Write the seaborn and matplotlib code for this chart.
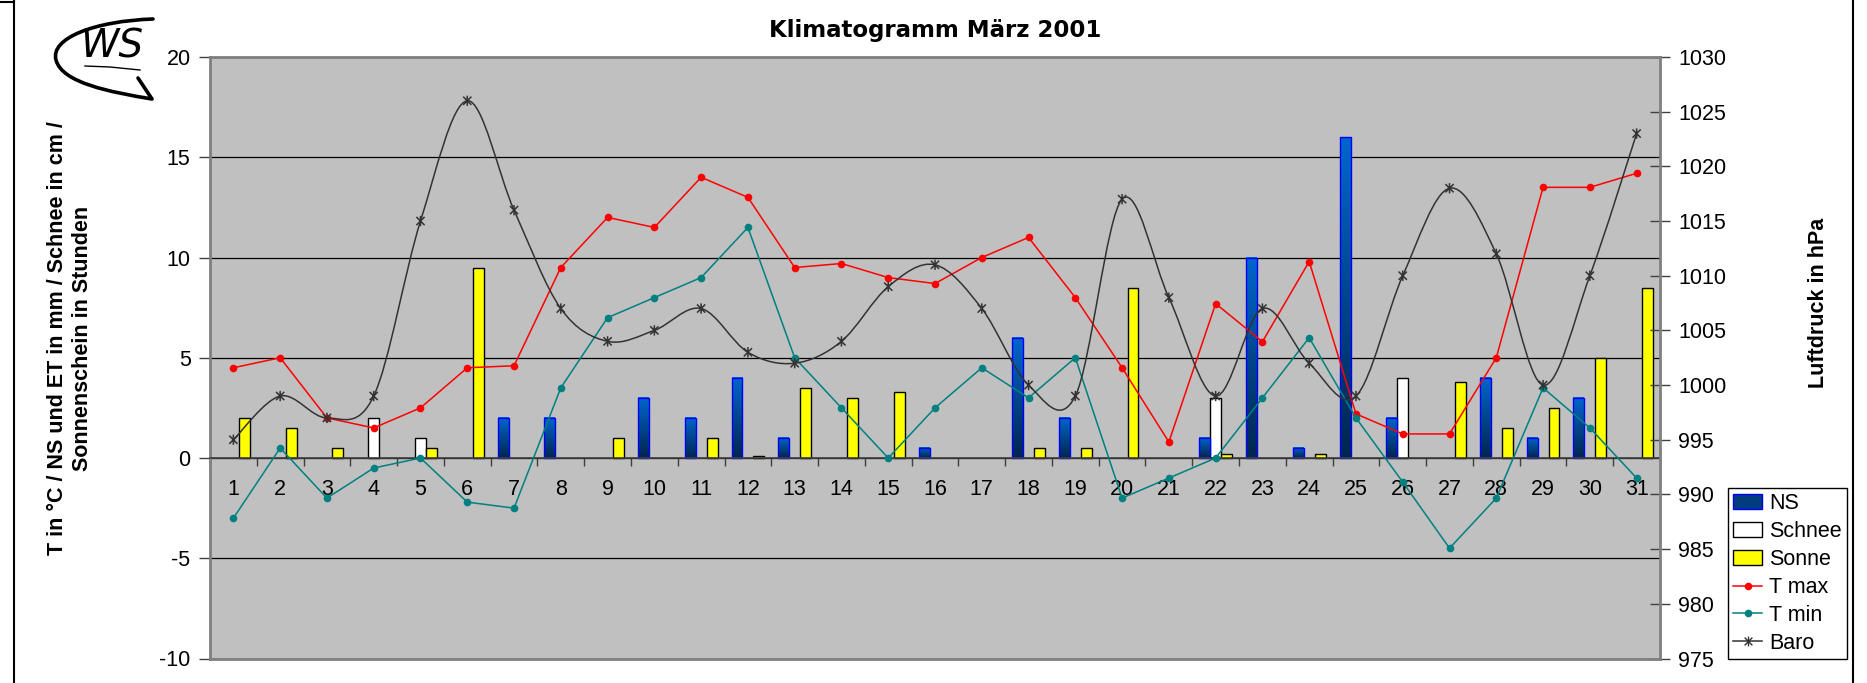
import numpy as np
import pandas as pd
import matplotlib
matplotlib.use("Agg")
import matplotlib.pyplot as plt
import seaborn as sns
from matplotlib.path import Path
from matplotlib.patches import PathPatch, Patch
from matplotlib.lines import Line2D
from matplotlib.colors import LinearSegmentedColormap

nan = np.nan
days = [str(d) for d in range(1, 32)]
ns = [nan, nan, nan, nan, nan, nan, 2, 2, nan, 3, 2, 4, 1, nan, nan, 0.5,
      nan, 6, 2, nan, nan, 1, 10, 0.5, 16, 2, nan, 4, 1, 3, nan]
schnee = [nan, nan, nan, 2, 1, nan, nan, nan, nan, nan, nan, nan, nan, nan, nan, nan,
          nan, nan, nan, nan, nan, 3, nan, nan, nan, 4, nan, nan, nan, nan, nan]
sonne = [2, 1.5, 0.5, nan, 0.5, 9.5, nan, nan, 1, nan, 1, 0.1, 3.5, 3, 3.3, nan,
         nan, 0.5, 0.5, 8.5, nan, 0.2, nan, 0.2, nan, nan, 3.8, 1.5, 2.5, 5, 8.5]
tmax = [4.5, 5, 2, 1.5, 2.5, 4.5, 4.6, 9.5, 12, 11.5, 14, 13, 9.5, 9.7, 9, 8.7,
        10, 11, 8, 4.5, 0.8, 7.7, 5.8, 9.8, 2.2, 1.2, 1.2, 5, 13.5, 13.5, 14.2]
tmin = [-3, 0.5, -2, -0.5, 0, -2.2, -2.5, 3.5, 7, 8, 9, 11.5, 5, 2.5, 0, 2.5,
        4.5, 3, 5, -2, -1, 0, 3, 6, 2, -1.2, -4.5, -2, 3.5, 1.5, -1]
baro = [995, 999, 997, 999, 1015, 1026, 1016, 1007, 1004, 1005, 1007, 1003, 1002, 1004,
        1009, 1011, 1007, 1000, 999, 1017, 1008, 999, 1007, 1002, 999, 1010, 1018,
        1012, 1000, 1010, 1023]
series = ["NS", "Schnee", "Sonne"]
legend_labels = ["NS", "Schnee", "Sonne", "T max", "T min", "Baro"]
title = "Klimatogramm März 2001"
ylabel_left = "T in °C / NS und ET in mm / Schnee in cm /\nSonnenschein in Stunden"
ylabel_right = "Luftdruck in hPa"

plt.rcParams['font.family'] = ['Liberation Sans', 'DejaVu Sans']
plt.rcParams['axes.unicode_minus'] = False

W, H = 1867, 683
fig = plt.figure(figsize=(W / 100, H / 100), dpi=100)
fig.patch.set_facecolor('white')
ax = fig.add_axes([210 / W, 1 - 658.5 / H, 1450 / W, 601.5 / H])
ax.set_facecolor('#C0C0C0')

df = pd.DataFrame({
    'Tag': days * 3,
    'Serie': ['NS'] * 31 + ['Schnee'] * 31 + ['Sonne'] * 31,
    'Wert': ns + schnee + sonne,
}).dropna()

sns.barplot(data=df, x='Tag', y='Wert', hue='Serie', order=days, hue_order=series,
            palette={'NS': '#0050a0', 'Schnee': 'white', 'Sonne': '#FFFF00'},
            width=0.7, gap=0, errorbar=None, legend=False, saturation=1,
            edgecolor='black', linewidth=1.0, ax=ax, zorder=2)

grad = np.linspace(0, 1, 256).reshape(-1, 1)
cmap = LinearSegmentedColormap.from_list('ns', ['#00254f', '#0066cc'])
for cont, name in zip(ax.containers, series):
    if name != 'NS':
        continue
    for p in cont:
        x0, w, h = p.get_x(), p.get_width(), p.get_height()
        if not np.isfinite(h) or h == 0:
            continue
        ax.imshow(grad, extent=[x0, x0 + w, 0, h], origin='lower', aspect='auto',
                  cmap=cmap, zorder=2.1, interpolation='bilinear')
        p.set_facecolor('none')
        p.set_edgecolor('#0000FF')
        p.set_zorder(2.2)

pos = np.arange(len(days))
sns.lineplot(x=pos, y=tmax, color='#FF0000', marker='o', markersize=5.5,
             markeredgewidth=0, linewidth=1.1, ax=ax, zorder=4, legend=False)
sns.lineplot(x=pos, y=tmin, color='#008080', marker='o', markersize=5.5,
             markeredgewidth=0, linewidth=1.1, ax=ax, zorder=4, legend=False)

ax.set_xlim(-0.5, len(days) - 0.5)
ax.set_ylim(-10, 20)
ax.set_aspect('auto')
ax.set_xlabel('')
ax.set_ylabel('')
ax.set_yticks(range(-10, 21, 5))
ax.grid(axis='y', color='black', linewidth=0.9)
ax.grid(axis='x', visible=False)
ax.set_axisbelow(True)

ax.set_xticks(np.arange(-0.5, len(days), 1))
ax.set_xticklabels([])
ax.set_xticks(pos, minor=True)
ax.set_xticklabels(days, minor=True)
ax.tick_params(axis='x', which='major', direction='out', length=6, width=1, color='#404040')
ax.tick_params(axis='x', which='minor', length=0, pad=15, labelsize=15.5)
ax.tick_params(axis='y', direction='out', length=8, width=1, color='#404040',
               pad=6, labelsize=15.5)
ax.spines['bottom'].set_position(('data', 0))
ax.spines['bottom'].set_color('#404040')
ax.spines['bottom'].set_linewidth(1.2)
ax.spines['top'].set_visible(False)
ax.spines['right'].set_visible(False)
ax.spines['left'].set_color('#808080')
ax.spines['left'].set_linewidth(2)

# Barometer on secondary axis
ax2 = ax.twinx()
ax2.set_ylim(975, 1030)
ax2.set_yticks(range(975, 1031, 5))
ax2.tick_params(axis='y', direction='inout', length=14, width=1, color='#404040',
                pad=6, labelsize=15.5)
for s in ['top', 'right', 'bottom']:
    ax2.spines[s].set_color('#808080')
    ax2.spines[s].set_linewidth(2)
ax2.spines['left'].set_visible(False)

xb = pos.astype(float)
yb = np.array(baro, dtype=float)
n = len(xb)
verts = [(xb[0], yb[0])]
codes = [Path.MOVETO]
for i in range(n - 1):
    j0 = max(i - 1, 0)
    j3 = min(i + 2, n - 1)
    c1 = (xb[i] + (xb[i + 1] - xb[j0]) / 6, yb[i] + (yb[i + 1] - yb[j0]) / 6)
    c2 = (xb[i + 1] - (xb[j3] - xb[i]) / 6, yb[i + 1] - (yb[j3] - yb[i]) / 6)
    verts += [c1, c2, (xb[i + 1], yb[i + 1])]
    codes += [Path.CURVE4] * 3
ax2.add_patch(PathPatch(Path(verts, codes), facecolor='none', edgecolor='#333333',
                        linewidth=1.1, zorder=3))
star = Path([(0, -1), (0, 1), (-0.8, -0.8), (0.8, 0.8), (-0.8, 0.8), (0.8, -0.8)],
            [Path.MOVETO, Path.LINETO, Path.MOVETO, Path.LINETO, Path.MOVETO, Path.LINETO])
sns.scatterplot(x=xb, y=yb, marker=star, s=55, facecolor='none', edgecolor='#333333',
                linewidth=1.1, ax=ax2, zorder=4, legend=False)
ax2.set_xlim(-0.5, len(days) - 0.5)
ax2.set_ylim(975, 1030)
ax2.set_ylabel('')

# Texts
fig.text(935 / W, 1 - 37 / H, title, ha='center', va='baseline', fontsize=16.5,
         fontweight='bold', family=['DejaVu Sans'])
fig.text(70 / W, 1 - 338 / H, ylabel_left, rotation=90, ha='center', va='center',
         multialignment='center', fontsize=15.5, fontweight='bold', linespacing=1.2)
fig.text(1818 / W, 1 - 303 / H, ylabel_right, rotation=90, ha='center', va='center',
         fontsize=15.5, fontweight='bold')

# Legend
handles = [
    Patch(facecolor='#003c7e', edgecolor='#0000FF', linewidth=1),
    Patch(facecolor='white', edgecolor='black', linewidth=1),
    Patch(facecolor='#FFFF00', edgecolor='black', linewidth=1),
    Line2D([], [], color='#FF0000', marker='o', markersize=5.5, markeredgewidth=0, lw=1.1),
    Line2D([], [], color='#008080', marker='o', markersize=5.5, markeredgewidth=0, lw=1.1),
    Line2D([], [], color='#333333', marker=star, markersize=7, markerfacecolor='none',
           markeredgecolor='#333333', markeredgewidth=1, lw=1.1),
]
leg = fig.legend(handles, legend_labels, loc='upper left',
                 bbox_to_anchor=(1728 / W, 1 - 488 / H), bbox_transform=fig.transFigure,
                 frameon=True, fancybox=False, edgecolor='black', framealpha=1,
                 fontsize=15.5, handlelength=1.35, handletextpad=0.3, labelspacing=0.32,
                 borderpad=0.25, borderaxespad=0)
leg.get_frame().set_linewidth(1)

# Outer frame fragments
fig.add_artist(Line2D([14 / W, 14 / W], [0, 1], transform=fig.transFigure, color='black', lw=1.5))
fig.add_artist(Line2D([0, 14 / W], [1 - 1.5 / H, 1 - 1.5 / H], transform=fig.transFigure,
                      color='black', lw=1.5))
fig.add_artist(Line2D([1853 / W, 1853 / W], [0, 1], transform=fig.transFigure, color='black', lw=1.5))

# Logo
lax = fig.add_axes([45 / W, 1 - 104 / H, 120 / W, 94 / H])
lax.set_xlim(45, 165)
lax.set_ylim(104, 10)
lax.axis('off')
swoosh = Path([(153, 19), (95, 21), (50, 38), (56, 60), (62, 83), (110, 92), (152, 99), (138, 78)],
              [Path.MOVETO, Path.CURVE4, Path.CURVE4, Path.CURVE4,
               Path.CURVE4, Path.CURVE4, Path.CURVE4, Path.LINETO])
lax.add_patch(PathPatch(swoosh, facecolor='none', edgecolor='black', lw=2.6,
                        capstyle='round', joinstyle='round'))
lax.plot([85, 110, 140], [66, 67, 70], color='black', lw=1)
lax.text(112, 46, 'WS', ha='center', va='center', fontsize=28, style='italic',
         family=['DejaVu Sans'], color='black')

fig.savefig('out.png', dpi=100)
